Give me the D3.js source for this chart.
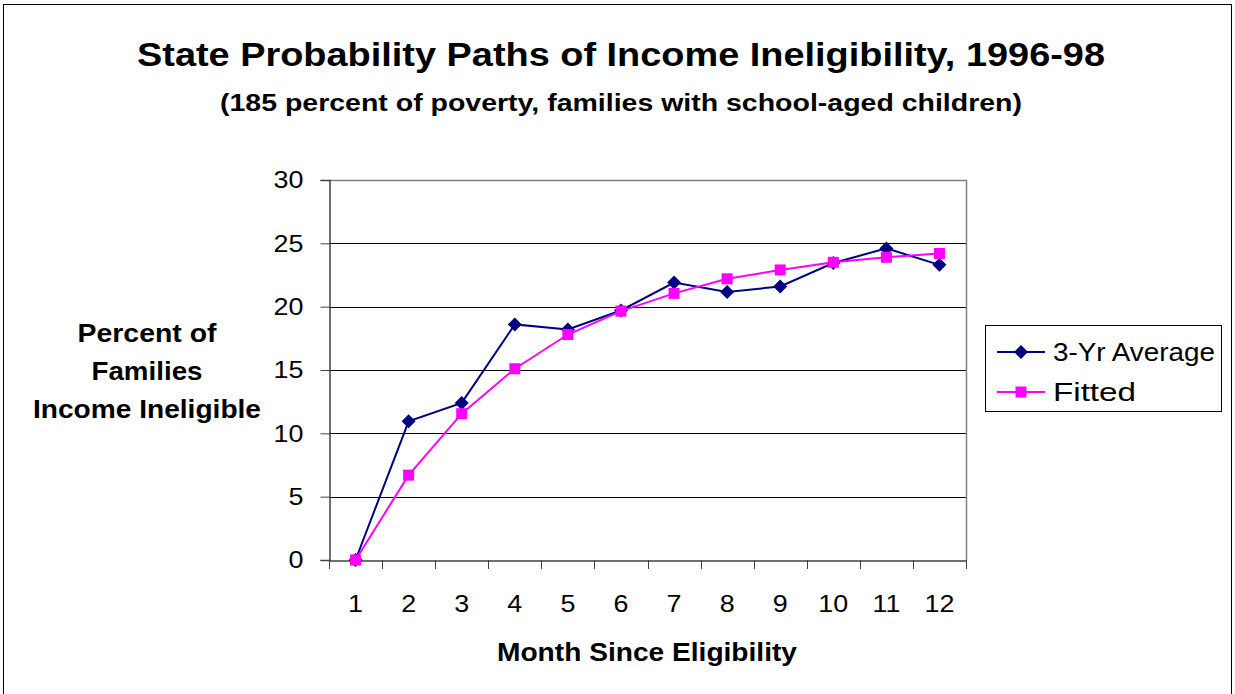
<!DOCTYPE html>
<html>
<head>
<meta charset="utf-8">
<script src="https://cdn.jsdelivr.net/npm/d3@7"></script>
<style>
	body{margin:0;background:#fff;}
	text{font-family:"Liberation Sans",Arial,sans-serif;fill:#000;}
</style>
</head>
<body>
<div id="chart"></div>
<script>
	const months = [1,2,3,4,5,6,7,8,9,10,11,12];
	const avg3yr = [0,10.95,12.4,18.6,18.2,19.7,21.9,21.15,21.6,23.45,24.6,23.3];
	const fitted = [0,6.7,11.55,15.1,17.8,19.65,21.05,22.2,22.9,23.5,23.9,24.2];
	const yTicks = [0,5,10,15,20,25,30];
	const seriesNames = ["3-Yr Average","Fitted"];

	const W = 1235, H = 694;
	const plot = {left:329, top:180, right:966, bottom:560};
	const stretch = 1.12;

	// the reference text is a bit wider than the font, stretch it
	function widen(sel,f){
		sel.each(function(){
			const w = this.getComputedTextLength();
			d3.select(this).attr("textLength",w*(f||stretch)).attr("lengthAdjust","spacingAndGlyphs");
		});
	}

	const svg = d3.select("#chart").append("svg")
		.attr("width",W).attr("height",H)
		.style("display","block");

	// outer frame
	svg.append("rect")
		.attr("x",3.5).attr("y",4.5)
		.attr("width",1228).attr("height",H)
		.style("fill","none").style("stroke","#000").style("stroke-width",1);

	const X = d3.scaleBand().domain(months).range([plot.left,plot.right]);
	const Y = d3.scaleLinear().domain([0,30]).range([plot.bottom,plot.top]);

	// gridlines
	svg.append("g").selectAll("line").data(yTicks.filter(d=>d>0 && d<30)).enter().append("line")
		.attr("x1",plot.left).attr("x2",plot.right)
		.attr("y1",d=>Math.round(Y(d))+0.5).attr("y2",d=>Math.round(Y(d))+0.5)
		.style("stroke","#000").style("stroke-width",1);

	// plot frame top/right (gray)
	svg.append("path")
		.attr("d","M"+plot.left+","+(plot.top+0.5)+"H"+(plot.right+0.5)+"V"+plot.bottom)
		.style("fill","none").style("stroke","#808080").style("stroke-width",1.5);

	// y axis
	const yAxis = svg.append("g")
		.attr("transform","translate("+(plot.left+0.5)+",0)")
		.call(d3.axisLeft(Y).tickValues(yTicks).tickSize(9).tickPadding(17));
	yAxis.select(".domain").style("stroke","#404040").style("stroke-width",1.5);
	yAxis.selectAll(".tick line").style("stroke","#404040");
	yAxis.selectAll(".tick text").style("font-size","24px").style("font-family","Liberation Sans, Arial, sans-serif").attr("fill","#000").call(widen);

	// x axis: ticks at category boundaries
	const xAxis = svg.append("g")
		.attr("transform","translate(0,"+(plot.bottom+0.5)+")")
		.call(d3.axisBottom(X).tickSize(0).tickPadding(34));
	xAxis.select(".domain").style("stroke","#404040").style("stroke-width",1.5);
	xAxis.selectAll(".tick text").style("font-size","24px").style("font-family","Liberation Sans, Arial, sans-serif").attr("fill","#000").call(widen);
	svg.append("g").selectAll("line").data(d3.range(months.length+1)).enter().append("line")
		.attr("x1",i=>Math.round(plot.left+i*X.step())+0.5)
		.attr("x2",i=>Math.round(plot.left+i*X.step())+0.5)
		.attr("y1",plot.bottom).attr("y2",plot.bottom+9)
		.style("stroke","#404040").style("stroke-width",1);

	const cx = d=>X(d)+X.bandwidth()/2;
	const line = d3.line().x((d,i)=>cx(months[i])).y(d=>Y(d));

	const diamond = "M0,-7L7,0L0,7L-7,0Z";
	const square = "M-5.5,-5.5H5.5V5.5H-5.5Z";

	// 3-yr average
	svg.append("path").datum(avg3yr).attr("d",line)
		.style("fill","none").style("stroke","#000080").style("stroke-width",2);
	svg.append("g").selectAll("path").data(avg3yr).enter().append("path")
		.attr("d",diamond)
		.attr("transform",(d,i)=>"translate("+cx(months[i])+","+Y(d)+")")
		.style("fill","#000080");

	// fitted
	svg.append("path").datum(fitted).attr("d",line)
		.style("fill","none").style("stroke","#ff00ff").style("stroke-width",2);
	svg.append("g").selectAll("path").data(fitted).enter().append("path")
		.attr("d",square)
		.attr("transform",(d,i)=>"translate("+cx(months[i])+","+Y(d)+")")
		.style("fill","#ff00ff");

	// titles
	svg.append("text").text("State Probability Paths of Income Ineligibility, 1996-98")
		.attr("x",621).attr("y",66).style("text-anchor","middle")
		.style("font-size","34px").style("font-weight","bold")
		.attr("textLength",968).attr("lengthAdjust","spacingAndGlyphs");
	svg.append("text").text("(185 percent of poverty, families with school-aged children)")
		.attr("x",621).attr("y",111).style("text-anchor","middle")
		.style("font-size","23px").style("font-weight","bold")
		.attr("textLength",802).attr("lengthAdjust","spacingAndGlyphs");
	svg.append("text").text("Month Since Eligibility")
		.attr("x",647).attr("y",661).style("text-anchor","middle")
		.style("font-size","26px").style("font-weight","bold")
		.attr("textLength",300).attr("lengthAdjust","spacingAndGlyphs");
	const ylines = ["Percent of","Families","Income Ineligible"];
	const ylens = [139,111,228];
	const ybase = [342,380,418];
	ylines.forEach((s,i)=>{
		svg.append("text").text(s).attr("x",147).attr("y",ybase[i])
			.style("text-anchor","middle")
			.style("font-size","26px").style("font-weight","bold")
			.attr("textLength",ylens[i]).attr("lengthAdjust","spacingAndGlyphs");
	});

	// legend
	const lg = svg.append("g");
	lg.append("rect").attr("x",985.5).attr("y",325.5).attr("width",236).attr("height",86)
		.style("fill","#fff").style("stroke","#000").style("stroke-width",1);
	const colors = ["#000080","#ff00ff"];
	const syms = [diamond,square];
	const lgLens = [162,83];
	seriesNames.forEach((name,i)=>{
		const yy = 352+i*40;
		lg.append("line").attr("x1",997).attr("x2",1045).attr("y1",yy).attr("y2",yy)
			.style("stroke",colors[i]).style("stroke-width",2);
		lg.append("path").attr("d",syms[i]).attr("transform","translate(1021,"+yy+")")
			.style("fill",colors[i]);
		lg.append("text").text(name).attr("x",1053).attr("y",yy+9)
			.style("font-size","25px")
			.attr("textLength",lgLens[i]).attr("lengthAdjust","spacingAndGlyphs");
	});
</script>
</body>
</html>
